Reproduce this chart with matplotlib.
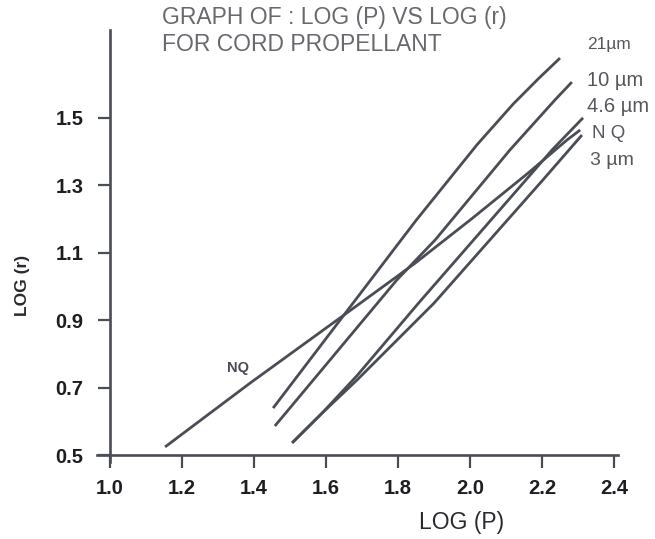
import numpy as np
import matplotlib.pyplot as plt

# log(P) / log(r) points picked along each burning-rate curve
x_21 = [1.453, 1.65, 1.85, 2.02, 2.12, 2.19, 2.25]
y_21 = [0.639, 0.915, 1.195, 1.42, 1.54, 1.615, 1.676]

x_10 = [1.458, 1.797, 1.903, 2.111, 2.236, 2.283]
y_10 = [0.586, 1.019, 1.137, 1.404, 1.552, 1.605]

x_46 = [1.506, 1.589, 1.686, 1.861, 2.228, 2.314]
y_46 = [0.536, 0.624, 0.735, 0.955, 1.404, 1.499]

x_nq = [1.153, 1.389, 1.658, 1.792, 1.847, 2.006, 2.161, 2.269, 2.306]
y_nq = [0.524, 0.713, 0.921, 1.025, 1.068, 1.201, 1.335, 1.433, 1.463]

x_3 = [1.506, 1.589, 1.686, 1.9, 2.2, 2.311]
y_3 = [0.536, 0.624, 0.722, 0.95, 1.312, 1.448]

curves = [(x_21, y_21), (x_10, y_10), (x_46, y_46), (x_nq, y_nq), (x_3, y_3)]
names = ['21\u00b5m', '10 \u00b5m', '4.6 \u00b5m', 'N Q', '3 \u00b5m']
name_size = [12.5, 14.5, 14.5, 13.5, 14]
name_y = [1.715, 1.611, 1.534, 1.454, 1.374]
name_x = [2.325, 2.325, 2.325, 2.34, 2.332]

xticks = [1.0, 1.2, 1.4, 1.6, 1.8, 2.0, 2.2, 2.4]
yticks = [0.5, 0.7, 0.9, 1.1, 1.3, 1.5]

plt.rcParams['font.family'] = ['Liberation Sans', 'DejaVu Sans']
ink = '#4a4d55'

fig = plt.figure(figsize=(6.55, 5.39), dpi=100)
ax = fig.add_axes([0.1487, 0.1433, 0.7942, 0.8015])

for xs, ys in curves:
    ax.plot(xs, ys, color=ink, lw=2.0, solid_capstyle='butt',
            solid_joinstyle='round')

for n, xn, yn, fs in zip(names, name_x, name_y, name_size):
    ax.text(xn, yn, n, fontsize=fs, color='#55575d', va='center', ha='left',
            clip_on=False)
ax.text(1.355, 0.759, 'NQ', fontsize=10.5, fontweight='bold', color=ink,
        ha='center', va='center')

ax.set_xlim(0.965, 2.41)
ax.set_ylim(0.48, 1.76)
for s in ['top', 'right']:
    ax.spines[s].set_visible(False)
ax.spines['left'].set_position(('data', 1.0))
ax.spines['bottom'].set_position(('data', 0.5))
for s in ['left', 'bottom']:
    ax.spines[s].set_color(ink)
    ax.spines[s].set_linewidth(1.9)

ax.tick_params(axis='both', direction='out', length=9, width=1.6, color=ink,
               labelcolor='#1e1e22')
ax.tick_params(axis='x', pad=8)
ax.tick_params(axis='y', pad=10)
ax.set_xticks(xticks)
ax.set_xticklabels(['%.1f' % v for v in xticks], fontsize=14.5,
                   fontweight='bold')
ax.set_yticks(yticks)
ax.set_yticklabels(['%.1f' % v for v in yticks], fontsize=14.5,
                   fontweight='bold')

fig.text(0.705, 0.0315, 'LOG (P)', fontsize=16.5, color='#2a2a2e',
         ha='center', va='center')
fig.text(0.034, 0.471, 'LOG (r)', fontsize=12.5, color='#2a2a2e', rotation=90,
         ha='center', va='center', fontweight='bold')

fig.text(0.247, 0.967, 'GRAPH OF : LOG (P) VS LOG (r)', fontsize=16.5,
         color='#68696e', ha='left', va='center')
fig.text(0.247, 0.917, 'FOR CORD PROPELLANT', fontsize=16.5,
         color='#68696e', ha='left', va='center')

fig.savefig('out.png', dpi=100)
